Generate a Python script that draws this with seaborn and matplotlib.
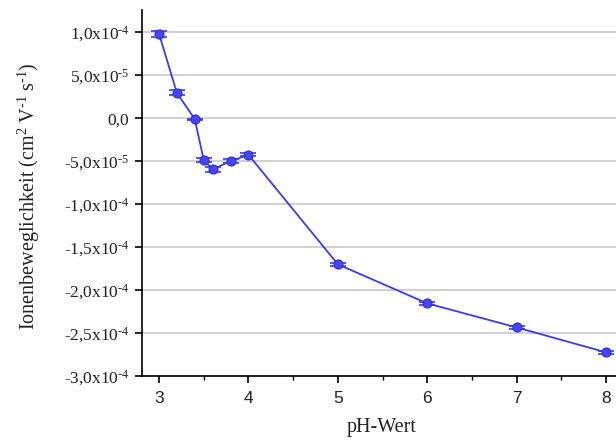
import matplotlib
matplotlib.use("Agg")
import matplotlib.pyplot as plt
import seaborn as sns
import pandas as pd
import numpy as np
from matplotlib.ticker import FixedLocator, MultipleLocator

ph = [3.0, 3.2, 3.4, 3.5, 3.6, 3.8, 4.0, 5.0, 6.0, 7.0, 8.0]
mobility = [9.85e-5, 2.95e-5, -0.1e-5, -4.85e-5, -5.95e-5, -5.0e-5, -4.25e-5,
            -1.70e-4, -2.155e-4, -2.435e-4, -2.725e-4]
yerr = [3.5e-6, 3.0e-6, 0.5e-6, 2.5e-6, 2.5e-6, 2.0e-6, 1.5e-6,
        1.5e-6, 2.0e-6, 1.5e-6, 1.5e-6]
ytick_vals = [1.0e-4, 5.0e-5, 0.0, -5.0e-5, -1.0e-4, -1.5e-4, -2.0e-4, -2.5e-4, -3.0e-4]
ytick_labels = ["1,0x10$^{\u20104}$", "5,0x10$^{\u20105}$", "0,0", "-5,0x10$^{\u20105}$",
                "-1,0x10$^{\u20104}$", "-1,5x10$^{\u20104}$", "-2,0x10$^{\u20104}$",
                "-2,5x10$^{\u20104}$", "-3,0x10$^{\u20104}$"]
xtick_vals = [3, 4, 5, 6, 7, 8]

sns.set_style("white")
plt.rcParams["font.family"] = ["Liberation Serif", "DejaVu Serif"]
plt.rcParams["mathtext.fontset"] = "custom"
plt.rcParams["mathtext.rm"] = "Liberation Serif"
plt.rcParams["mathtext.it"] = "Liberation Serif:italic"
plt.rcParams["mathtext.bf"] = "Liberation Serif:bold"

df = pd.DataFrame({"pH": ph, "mob": mobility})

fig = plt.figure(figsize=(6.16, 4.41), dpi=100)
ax = fig.add_axes([142/616, 1 - 376/441, 1 - 142/616, (376 - 10)/441])

color = "#3a3af2"
ax.errorbar(ph, mobility, yerr=yerr, fmt="none", ecolor=color, elinewidth=1.2,
            capsize=5.5, capthick=1.2, zorder=3)
sns.lineplot(data=df, x="pH", y="mob", ax=ax, color=color, linewidth=1.3,
             marker="o", markersize=6.5, markeredgecolor="#2a2ae0",
             markerfacecolor="#4646f5", markeredgewidth=0.8, zorder=4)

ax.set_xlim(2.81, 8.11)
ax.set_ylim(-3.0e-4, 1.26e-4)
ax.yaxis.set_major_locator(FixedLocator(ytick_vals))
ax.set_yticklabels(ytick_labels)
ax.set_xticks(xtick_vals)
ax.set_xticklabels([str(v) for v in xtick_vals], family=["Liberation Sans", "DejaVu Sans"])
ax.xaxis.set_minor_locator(MultipleLocator(0.5))

ax.grid(axis="y", color="#c8c8c8", linewidth=1.2)
ax.set_axisbelow(True)
for s in ["top", "right"]:
    ax.spines[s].set_visible(False)
for s in ["left", "bottom"]:
    ax.spines[s].set_color("black")
    ax.spines[s].set_linewidth(1.2)

ax.tick_params(axis="both", which="major", direction="out", length=5, width=1.2,
               color="black", labelcolor="#222222", left=True, bottom=True)
ax.tick_params(axis="y", labelsize=12.5, pad=4)
ax.tick_params(axis="x", labelsize=12.5, pad=6)
ax.tick_params(axis="x", which="minor", direction="out", length=3, width=1.0,
               color="black", bottom=True)

ax.set_xlabel("pH-Wert", fontsize=14.5, color="#222222")
ax.xaxis.set_label_coords((382 - 142) / 474, (376 - 418) / 366)
ax.set_ylabel("")
fig.text(29 / 616, 1 - 196 / 441,
         "Ionenbeweglichkeit (cm$^{2}$ V$^{\u20101}$ s$^{\u20101}$)",
         fontsize=14.5, color="#222222", rotation=90, ha="center", va="center")

fig.savefig("out.png", dpi=100)
